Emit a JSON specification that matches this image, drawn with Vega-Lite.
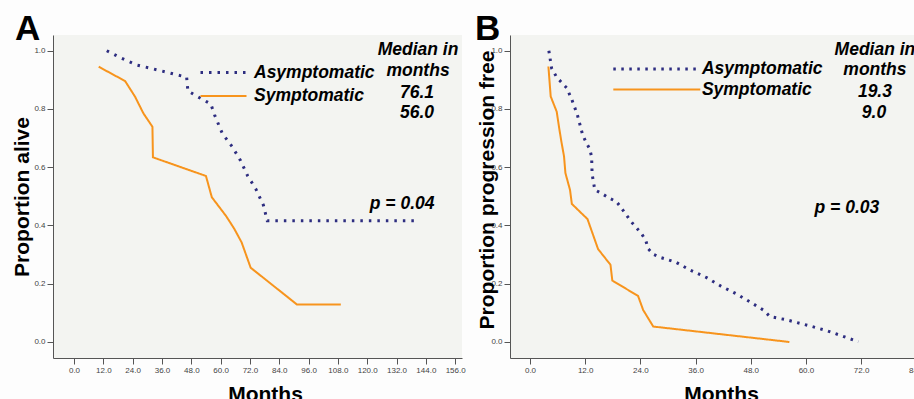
{
  "$schema": "https://vega.github.io/schema/vega-lite/v6.json",
  "background": "#fdfdfd",
  "autosize": {"type": "pad"},
  "padding": {"left": 11, "top": 12, "right": 0, "bottom": 0},
  "bounds": "flush",
  "spacing": 48,
  "resolve": {
    "scale": {"color": "independent", "strokeDash": "independent", "strokeWidth": "independent"},
    "legend": {"color": "independent", "strokeDash": "independent"}
  },
  "config": {
    "font": "Liberation Sans",
    "view": {"fill": "#f3f4f1", "stroke": null},
    "axis": {
      "grid": false,
      "domainColor": "#555555",
      "tickColor": "#555555",
      "labelColor": "#444444",
      "labelFont": "Liberation Sans",
      "labelFontSize": 8,
      "tickSize": 6,
      "labelPadding": 2,
      "labelOverlap": false,
      "labelFlush": false,
      "labelBound": false,
      "titleFont": "Liberation Sans",
      "titleFontSize": 21,
      "titleFontWeight": "bold",
      "titleColor": "#000000"
    },
    "legend": {
      "orient": "none",
      "title": null,
      "symbolStrokeWidth": 1.6,
      "labelFont": "Liberation Sans",
      "labelFontSize": 17.5,
      "labelFontStyle": "italic",
      "labelFontWeight": "bold",
      "labelColor": "#000000",
      "labelLimit": 0,
      "padding": 0
    },
    "title": {"anchor": "start", "frame": "group", "fontSize": 35, "fontWeight": "bold", "baseline": "alphabetic", "color": "#000000", "font": "Liberation Sans"}
  },
  "datasets": {
    "a": [
      {"month": 13.4, "prop": 1.0, "group": "Asymptomatic"},
      {"month": 19.5, "prop": 0.974, "group": "Asymptomatic"},
      {"month": 25.7, "prop": 0.951, "group": "Asymptomatic"},
      {"month": 32.7, "prop": 0.937, "group": "Asymptomatic"},
      {"month": 46.1, "prop": 0.909, "group": "Asymptomatic"},
      {"month": 46.6, "prop": 0.862, "group": "Asymptomatic"},
      {"month": 50.0, "prop": 0.845, "group": "Asymptomatic"},
      {"month": 56.0, "prop": 0.817, "group": "Asymptomatic"},
      {"month": 57.5, "prop": 0.78, "group": "Asymptomatic"},
      {"month": 60.7, "prop": 0.716, "group": "Asymptomatic"},
      {"month": 64.8, "prop": 0.67, "group": "Asymptomatic"},
      {"month": 68.2, "prop": 0.622, "group": "Asymptomatic"},
      {"month": 71.1, "prop": 0.57, "group": "Asymptomatic"},
      {"month": 74.5, "prop": 0.524, "group": "Asymptomatic"},
      {"month": 77.5, "prop": 0.47, "group": "Asymptomatic"},
      {"month": 79.1, "prop": 0.416, "group": "Asymptomatic"},
      {"month": 140.7, "prop": 0.416, "group": "Asymptomatic"},
      {"month": 10.1, "prop": 0.945, "group": "Symptomatic"},
      {"month": 20.9, "prop": 0.896, "group": "Symptomatic"},
      {"month": 25.0, "prop": 0.842, "group": "Symptomatic"},
      {"month": 28.4, "prop": 0.785, "group": "Symptomatic"},
      {"month": 32.1, "prop": 0.739, "group": "Symptomatic"},
      {"month": 32.3, "prop": 0.634, "group": "Symptomatic"},
      {"month": 54.0, "prop": 0.57, "group": "Symptomatic"},
      {"month": 56.4, "prop": 0.497, "group": "Symptomatic"},
      {"month": 62.2, "prop": 0.433, "group": "Symptomatic"},
      {"month": 65.5, "prop": 0.39, "group": "Symptomatic"},
      {"month": 68.6, "prop": 0.342, "group": "Symptomatic"},
      {"month": 72.3, "prop": 0.255, "group": "Symptomatic"},
      {"month": 91.2, "prop": 0.129, "group": "Symptomatic"},
      {"month": 109.2, "prop": 0.129, "group": "Symptomatic"}
    ],
    "b": [
      {"month": 4.1, "prop": 1.0, "group": "Asymptomatic"},
      {"month": 4.7, "prop": 0.94, "group": "Asymptomatic"},
      {"month": 5.8, "prop": 0.909, "group": "Asymptomatic"},
      {"month": 8.0, "prop": 0.872, "group": "Asymptomatic"},
      {"month": 9.1, "prop": 0.832, "group": "Asymptomatic"},
      {"month": 10.3, "prop": 0.78, "group": "Asymptomatic"},
      {"month": 11.45, "prop": 0.711, "group": "Asymptomatic"},
      {"month": 12.2, "prop": 0.685, "group": "Asymptomatic"},
      {"month": 13.0, "prop": 0.662, "group": "Asymptomatic"},
      {"month": 13.4, "prop": 0.635, "group": "Asymptomatic"},
      {"month": 13.5, "prop": 0.577, "group": "Asymptomatic"},
      {"month": 13.8, "prop": 0.549, "group": "Asymptomatic"},
      {"month": 14.1, "prop": 0.522, "group": "Asymptomatic"},
      {"month": 15.7, "prop": 0.509, "group": "Asymptomatic"},
      {"month": 17.2, "prop": 0.494, "group": "Asymptomatic"},
      {"month": 18.8, "prop": 0.482, "group": "Asymptomatic"},
      {"month": 19.9, "prop": 0.459, "group": "Asymptomatic"},
      {"month": 22.0, "prop": 0.413, "group": "Asymptomatic"},
      {"month": 24.3, "prop": 0.371, "group": "Asymptomatic"},
      {"month": 25.2, "prop": 0.347, "group": "Asymptomatic"},
      {"month": 25.7, "prop": 0.32, "group": "Asymptomatic"},
      {"month": 26.8, "prop": 0.301, "group": "Asymptomatic"},
      {"month": 28.4, "prop": 0.29, "group": "Asymptomatic"},
      {"month": 31.7, "prop": 0.274, "group": "Asymptomatic"},
      {"month": 34.8, "prop": 0.247, "group": "Asymptomatic"},
      {"month": 38.4, "prop": 0.221, "group": "Asymptomatic"},
      {"month": 41.5, "prop": 0.192, "group": "Asymptomatic"},
      {"month": 44.9, "prop": 0.165, "group": "Asymptomatic"},
      {"month": 47.8, "prop": 0.138, "group": "Asymptomatic"},
      {"month": 50.7, "prop": 0.11, "group": "Asymptomatic"},
      {"month": 52.2, "prop": 0.087, "group": "Asymptomatic"},
      {"month": 55.8, "prop": 0.076, "group": "Asymptomatic"},
      {"month": 60.9, "prop": 0.055, "group": "Asymptomatic"},
      {"month": 64.5, "prop": 0.039, "group": "Asymptomatic"},
      {"month": 67.8, "prop": 0.021, "group": "Asymptomatic"},
      {"month": 71.4, "prop": 0.001, "group": "Asymptomatic"},
      {"month": 4.0, "prop": 0.946, "group": "Symptomatic"},
      {"month": 4.5, "prop": 0.843, "group": "Symptomatic"},
      {"month": 5.8, "prop": 0.791, "group": "Symptomatic"},
      {"month": 6.4, "prop": 0.729, "group": "Symptomatic"},
      {"month": 6.8, "prop": 0.69, "group": "Symptomatic"},
      {"month": 7.4, "prop": 0.637, "group": "Symptomatic"},
      {"month": 7.7, "prop": 0.58, "group": "Symptomatic"},
      {"month": 8.7, "prop": 0.522, "group": "Symptomatic"},
      {"month": 9.1, "prop": 0.474, "group": "Symptomatic"},
      {"month": 12.5, "prop": 0.422, "group": "Symptomatic"},
      {"month": 14.8, "prop": 0.319, "group": "Symptomatic"},
      {"month": 17.5, "prop": 0.265, "group": "Symptomatic"},
      {"month": 17.9, "prop": 0.211, "group": "Symptomatic"},
      {"month": 23.5, "prop": 0.158, "group": "Symptomatic"},
      {"month": 24.6, "prop": 0.11, "group": "Symptomatic"},
      {"month": 26.8, "prop": 0.053, "group": "Symptomatic"},
      {"month": 56.4, "prop": 0.0, "group": "Symptomatic"}
    ],
    "notes_a": [
      {"month": 140.8, "prop": 1.002, "label": "Median in"},
      {"month": 140.8, "prop": 0.93, "label": "months"},
      {"month": 140.4, "prop": 0.855, "label": "76.1"},
      {"month": 140.4, "prop": 0.786, "label": "56.0"},
      {"month": 134.3, "prop": 0.474, "label": "p = 0.04"}
    ],
    "notes_b": [
      {"month": 75.0, "prop": 1.003, "label": "Median in"},
      {"month": 75.0, "prop": 0.935, "label": "months"},
      {"month": 75.0, "prop": 0.859, "label": "19.3"},
      {"month": 74.8, "prop": 0.787, "label": "9.0"},
      {"month": 68.9, "prop": 0.46, "label": "p = 0.03"}
    ]
  },
  "hconcat": [
    {
      "width": 409,
      "height": 323,
      "title": {"text": "A", "dx": -38, "offset": -12},
      "encoding": {
        "x": {"field": "month", "type": "quantitative",
          "scale": {"domain": [-8.6, 158.8], "nice": false, "zero": false},
          "axis": {"values": [0, 12, 24, 36, 48, 60, 72, 84, 96, 108, 120, 132, 144, 156], "format": ".1f", "labelOverlap": false, "labelFlush": false, "labelBound": false, "title": "Months", "titleX": 212, "titleY": 42, "titleBaseline": "alphabetic"}},
        "y": {"field": "prop", "type": "quantitative",
          "scale": {"domain": [-0.055, 1.054], "nice": false, "zero": false},
          "axis": {"values": [0, 0.2, 0.4, 0.6, 0.8, 1.0], "format": ".1f", "labelOverlap": false, "title": "Proportion alive", "titleX": -25, "titleY": 161.5, "titleBaseline": "alphabetic", "titleAngle": 270}}
      },
      "layer": [
        {
          "data": {"name": "a"},
          "mark": {"type": "line", "strokeCap": "butt"},
          "encoding": {
            "color": {"field": "group", "type": "nominal",
              "scale": {"domain": ["Asymptomatic", "Symptomatic"], "range": ["#2d2d80", "#f7941d"]},
              "legend": {"legendX": 157.5, "legendY": 24.5, "symbolType": "M-2,0H2", "symbolSize": 529, "labelOffset": 17.5, "rowPadding": 2}},
            "strokeDash": {"field": "group", "type": "nominal",
              "scale": {"domain": ["Asymptomatic", "Symptomatic"], "range": [[2.5, 6], [1, 0]]},
              "legend": {"legendX": 157.5, "legendY": 24.5, "symbolType": "M-2,0H2", "symbolSize": 529, "labelOffset": 17.5, "rowPadding": 2}},
            "strokeWidth": {"field": "group", "type": "nominal",
              "scale": {"domain": ["Asymptomatic", "Symptomatic"], "range": [3, 2]},
              "legend": null}
          }
        },
        {
          "data": {"name": "notes_a"},
          "mark": {"type": "text", "font": "Liberation Sans", "fontSize": 17.5, "fontStyle": "italic", "fontWeight": "bold", "align": "center", "baseline": "middle", "color": "#000000"},
          "encoding": {
            "text": {"field": "label", "type": "nominal"}
          }
        }
      ]
    },
    {
      "width": 410,
      "height": 323,
      "title": {"text": "B", "dx": -35, "offset": -12},
      "encoding": {
        "x": {"field": "month", "type": "quantitative",
          "scale": {"domain": [-4.35, 84.8], "nice": false, "zero": false},
          "axis": {"values": [0, 12, 24, 36, 48, 60, 72, 84], "format": ".1f", "labelOverlap": false, "labelFlush": false, "labelBound": false, "title": "Months", "titleX": 211, "titleY": 42, "titleBaseline": "alphabetic"}},
        "y": {"field": "prop", "type": "quantitative",
          "scale": {"domain": [-0.055, 1.054], "nice": false, "zero": false},
          "axis": {"values": [0, 0.2, 0.4, 0.6, 0.8, 1.0], "format": ".1f", "labelOverlap": false, "title": "Proportion progression free", "titleX": -17, "titleY": 154.5, "titleBaseline": "alphabetic", "titleAngle": 270}}
      },
      "layer": [
        {
          "data": {"name": "b"},
          "mark": {"type": "line", "strokeCap": "butt"},
          "encoding": {
            "color": {"field": "group", "type": "nominal",
              "scale": {"domain": ["Asymptomatic", "Symptomatic"], "range": ["#2d2d80", "#f7941d"]},
              "legend": {"legendX": 134.3, "legendY": 21.5, "symbolType": "M-4,0H4", "symbolSize": 473, "labelOffset": 32.6, "rowPadding": 0}},
            "strokeDash": {"field": "group", "type": "nominal",
              "scale": {"domain": ["Asymptomatic", "Symptomatic"], "range": [[2.5, 5.5], [1, 0]]},
              "legend": {"legendX": 134.3, "legendY": 21.5, "symbolType": "M-4,0H4", "symbolSize": 473, "labelOffset": 32.6, "rowPadding": 0}},
            "strokeWidth": {"field": "group", "type": "nominal",
              "scale": {"domain": ["Asymptomatic", "Symptomatic"], "range": [3, 2]},
              "legend": null}
          }
        },
        {
          "data": {"name": "notes_b"},
          "mark": {"type": "text", "font": "Liberation Sans", "fontSize": 17.5, "fontStyle": "italic", "fontWeight": "bold", "align": "center", "baseline": "middle", "color": "#000000"},
          "encoding": {
            "text": {"field": "label", "type": "nominal"}
          }
        }
      ]
    }
  ]
}
